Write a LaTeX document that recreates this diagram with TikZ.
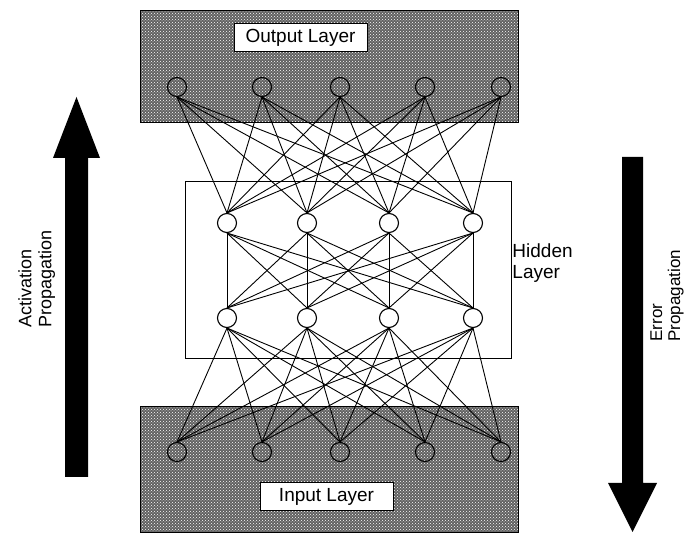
\documentclass[tikz,border=0pt]{standalone}
\usepackage{fontspec}
\setmainfont{Liberation Sans}
\usetikzlibrary{patterns}

\begin{document}
\begin{tikzpicture}[x=1pt, y=-1pt, line width=0.9pt,
  neuron/.style={circle, draw, line width=1.1pt, minimum size=19pt, inner sep=0pt},
  layerbox/.style={draw, fill=white, inner sep=0pt, minimum width=133pt, minimum height=28pt, font=\fontsize{19}{21}\selectfont},
  sidetext/.style={inner sep=0pt, align=left, font=\fontsize{18}{20}\selectfont},
  stipple/.style={draw, preaction={fill=black!62}, pattern=crosshatch dots, pattern color=white}]
  \useasboundingbox (0,0) rectangle (686,534);
  % shaded output and input layers
  \draw[stipple] (140,10) rectangle (518,122);
  \draw[stipple] (140,406) rectangle (518,532);
  % hidden layer frame
  \draw (185,181) rectangle (511,358);
  % neurons
  \foreach \x [count=\i] in {177,262,340,425,501} {
    \node[neuron] (out\i) at (\x,87) {};
    \node[neuron] (inp\i) at (\x,452) {};
  }
  \foreach \x [count=\i] in {227,307,389,473} {
    \node[neuron, fill=white] (ha\i) at (\x,223) {};
    \node[neuron, fill=white] (hb\i) at (\x,318) {};
  }
  % weights
  \foreach \i in {1,...,5}
    \foreach \j in {1,...,4} {
      \draw (out\i.south) -- (ha\j.north);
      \draw (inp\i.north) -- (hb\j.south);
    }
  \foreach \i in {1,...,4}
    \foreach \j in {1,...,4}
      \draw (ha\i.south) -- (hb\j.north);
  % layer labels
  \node[layerbox] (outlbl) at (300.5,37.5) {Output Layer};
  \node[layerbox] (inplbl) at (326.5,496.5) {Input Layer};
  \node[sidetext, anchor=north west, font=\fontsize{19}{21}\selectfont] (hidlbl) at (512,243) {Hidden\\Layer};
  % propagation arrows
  \fill (65,477) -- (65,158) -- (53,158) -- (76.5,97) -- (100,158) -- (88,158) -- (88,477) -- cycle;
  \fill (622,157) -- (643,157) -- (643,483) -- (657,483) -- (632.5,532) -- (608,483) -- (622,483) -- cycle;
  \node[sidetext, rotate=90, anchor=north west] (actlbl) at (18,328) {Activation\\Propagation};
  \node[sidetext, rotate=90, anchor=north west, font=\fontsize{17}{18}\selectfont] (errlbl) at (650,342) {Error\\Propagation};
\end{tikzpicture}
\end{document}
